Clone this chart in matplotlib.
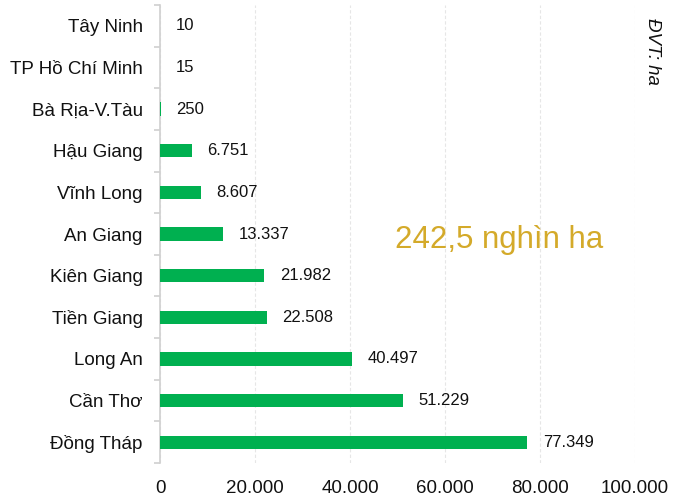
import matplotlib
matplotlib.use("Agg")
import matplotlib.pyplot as plt
from matplotlib.ticker import FuncFormatter, FixedLocator

plt.rcParams['font.family'] = ['Liberation Sans', 'DejaVu Sans']

provinces = ["Đồng Tháp", "Cần Thơ", "Long An", "Tiền Giang", "Kiên Giang",
             "An Giang", "Vĩnh Long", "Hậu Giang", "Bà Rịa-V.Tàu",
             "TP Hồ Chí Minh", "Tây Ninh"]
areas = [77349, 51229, 40497, 22508, 21982, 13337, 8607, 6751, 250, 15, 10]
x_ticks = [0, 20000, 40000, 60000, 80000, 100000]
total_label = "242,5 nghìn ha"
unit_label = "ĐVT: ha"

def vn(v):
    return f"{v:,.0f}".replace(",", ".")

fig = plt.figure(figsize=(6.78, 4.98), dpi=100)
ax = fig.add_axes([160/678, 35/498, 475/678, 458/498])

y = list(range(len(provinces)))
ax.barh(y, areas, height=0.32, color="#00B050", zorder=3)
ax.set_xlim(0, 100000)
ax.set_ylim(-0.5, len(provinces) - 0.5)
ax.set_xticks(x_ticks)
ax.xaxis.set_major_formatter(FuncFormatter(lambda v, p: vn(v)))
ax.set_yticks(y)
ax.set_yticklabels(provinces)
ax.tick_params(axis="y", length=0, labelsize=13.5, pad=12.5, labelcolor="#111111")
ax.tick_params(axis="x", length=0, labelsize=13.5, pad=12, labelcolor="#111111")
ax.yaxis.set_minor_locator(FixedLocator([i - 0.5 for i in range(len(provinces) + 1)]))
ax.tick_params(axis="y", which="minor", length=4, color="#d0d0d0", width=1.2)
ax.grid(axis="x", color="#e6e6e6", linestyle=(0, (3, 2)), linewidth=0.8, zorder=0)
for s in ["top", "right", "bottom"]:
    ax.spines[s].set_visible(False)
ax.spines["left"].set_color("#d0d0d0")
ax.spines["left"].set_linewidth(1.2)

for yi, v in zip(y, areas):
    ax.annotate(vn(v), (v, yi), xytext=(11, 0), textcoords="offset points",
                va="center", ha="left", fontsize=12, color="#111111")

fig.text(395/678, 1 - 240/498, total_label, fontsize=22.5, color="#D4AA2A",
         ha="left", va="center")
fig.text(653/678, 1 - 18/498, unit_label, fontsize=13.4, style="italic",
         rotation=-90, ha="center", va="top", color="#111111")

fig.savefig("out.png", dpi=100)
